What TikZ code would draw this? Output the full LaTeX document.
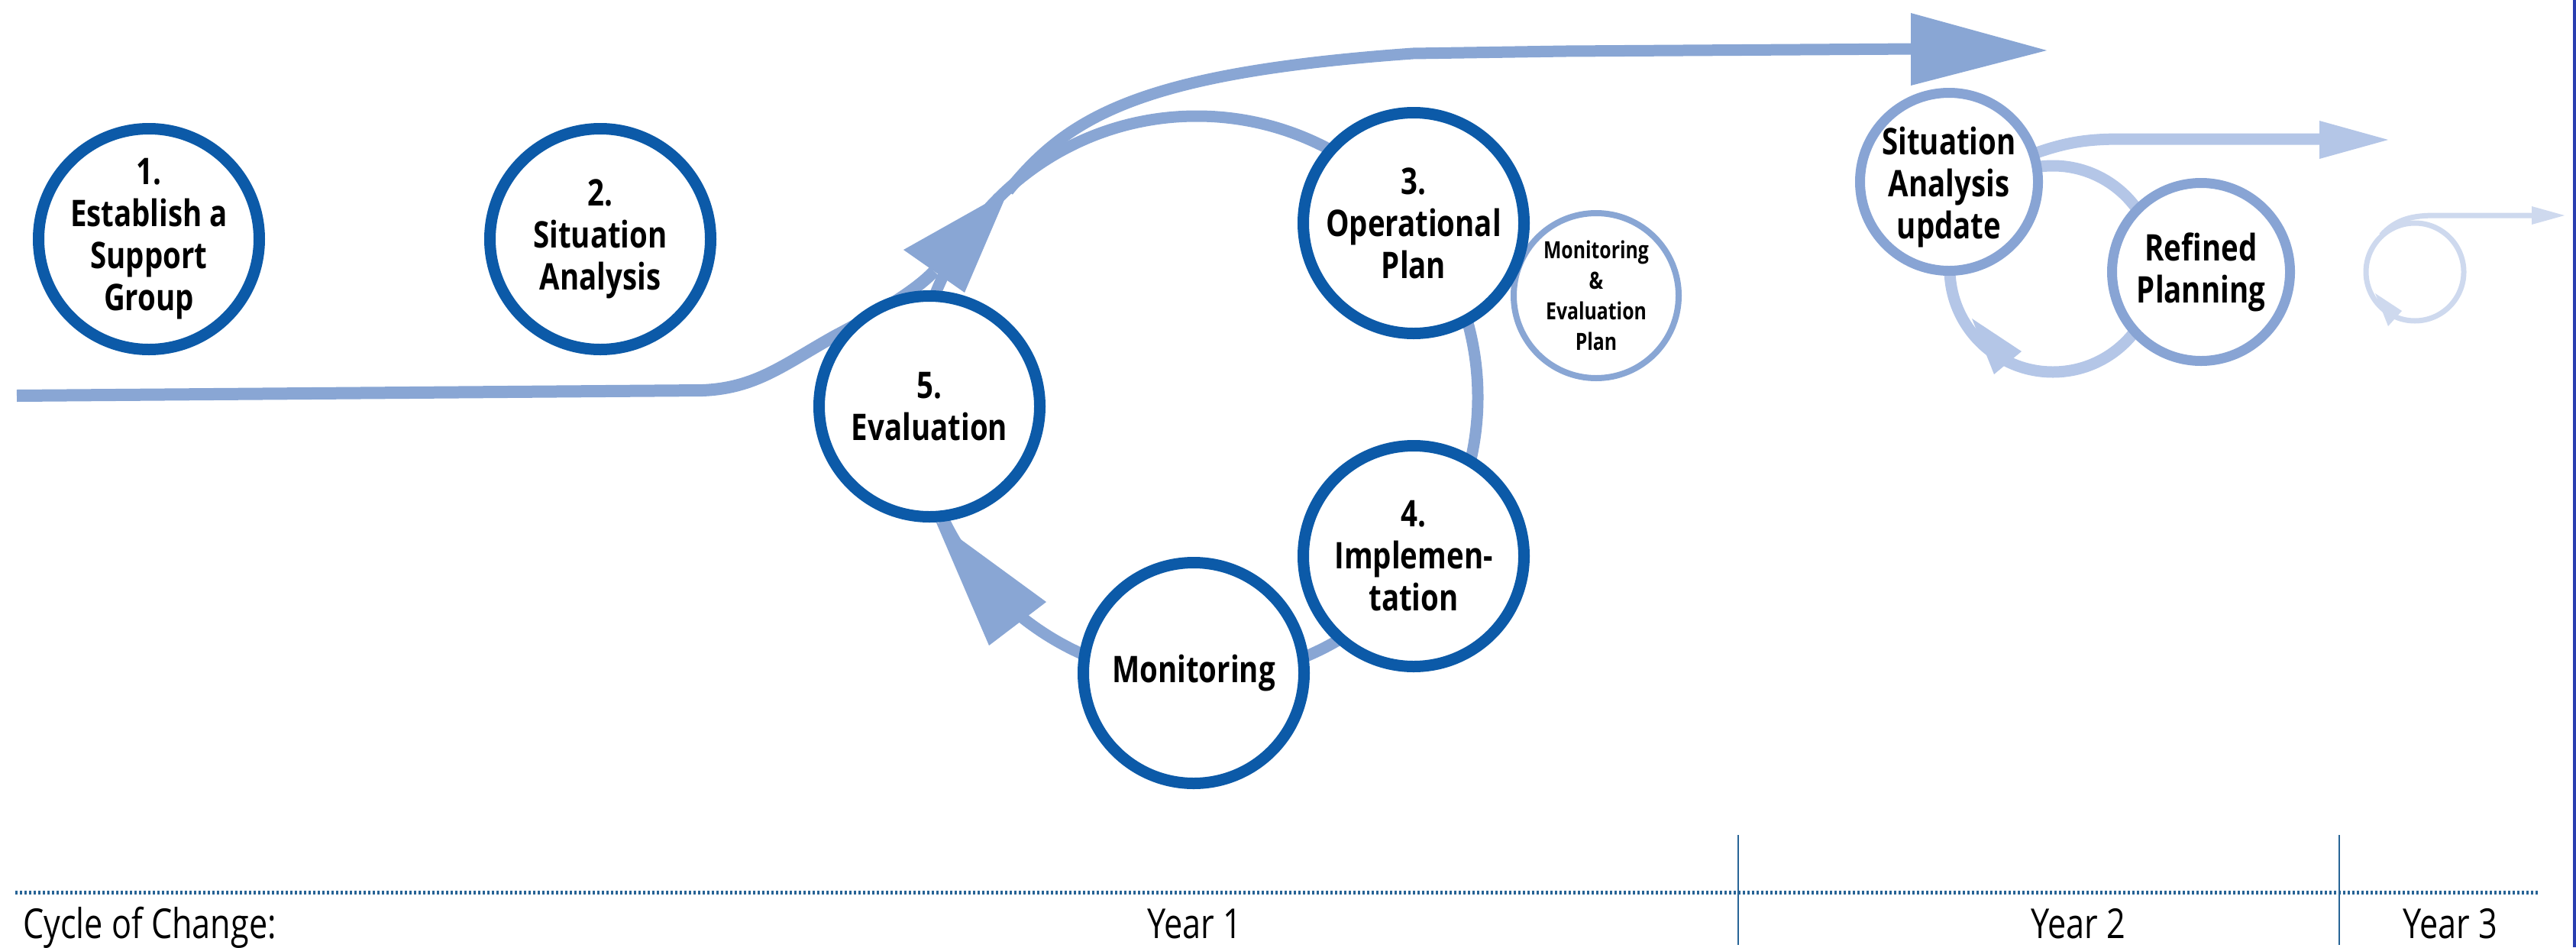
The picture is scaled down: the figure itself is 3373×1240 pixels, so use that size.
\documentclass[tikz,border=0pt]{standalone}
\usepackage{fontspec}
\setmainfont{Open Sans}[FakeStretch=0.8]
\definecolor{cdark}{RGB}{12,90,168}
\definecolor{carrow}{RGB}{137,166,212}
\definecolor{cytwo}{RGB}{180,198,231}
\definecolor{cytwoc}{RGB}{136,164,212}
\definecolor{cythree}{RGB}{206,217,238}
\definecolor{cdot}{RGB}{40,100,150}
\definecolor{cedge}{RGB}{40,62,176}
\tikzset{
  bigc/.style={circle, draw=cdark, line width=15pt, fill=white, minimum size=289pt, inner sep=0pt},
  ytwoc/.style={circle, draw=cytwoc, line width=13pt, fill=white, minimum size=233pt, inner sep=0pt},
  mec/.style={circle, draw=carrow, line width=8pt, fill=white, minimum size=216pt, inner sep=0pt},
  ctext/.style={align=center, font=\fontsize{48}{55}\selectfont\bfseries, inner sep=0pt},
  stext/.style={align=center, font=\fontsize{31}{40}\selectfont\bfseries, inner sep=0pt},
  btext/.style={font=\fontsize{54}{60}\selectfont, inner sep=0pt},
  flow/.style={draw=carrow, line width=16pt},
  flowtwo/.style={draw=cytwo, line width=15pt},
  flowthree/.style={draw=cythree, line width=7pt},
}
\begin{document}
\begin{tikzpicture}[x=1pt,y=-1pt]
\useasboundingbox (0,0) rectangle (3373,1240);
% ---------- coordinates
\coordinate (ringc) at (1567,520);
\coordinate (start) at (22,518);
\coordinate (tipA) at (1320,250);
\coordinate (endA) at (2510,64);
% ---------- Year 1 flows
\draw[flow] (start) -- (920,511) .. controls (990,508) and (1025,478) .. (1093,440)
   .. controls (1150,410) and (1200,380) .. (1223,355);
\draw[flow, line width=15pt] (ringc) circle[radius=368pt];
\draw[flow, line width=15pt] (tipA) .. controls (1400,150) and (1500,95) .. (1850,70) -- (2050,67) -- (endA);
% arrowheads
\fill[carrow] (tipA) -- (1183,327) -- (1263,383) -- cycle;
\fill[carrow] (1225,682) -- (1295,845) -- (1370,788) -- cycle;
\fill[carrow] (2680,66) -- (2502,17) -- (2502,112) -- cycle;
% ---------- Year 2 flows
\coordinate (loopc) at (2688,352);
\draw[flowtwo] (loopc) circle[radius=135pt];
\draw[flowtwo] (2640,210) .. controls (2700,186) and (2730,182) .. (2780,182) -- (3045,182);
\fill[cytwo] (3127,183) -- (3037,158) -- (3037,208) -- cycle;
\fill[cytwo] (2582,417) -- (2647,460) -- (2611,490) -- cycle;
% ---------- Year 3 flows
\coordinate (loopthree) at (3162,356);
\draw[flowthree] (loopthree) circle[radius=64pt];
\draw[flowthree] (3118,308) .. controls (3138,286) and (3160,282) .. (3190,282) -- (3320,282);
\fill[cythree] (3358,282) -- (3315,270) -- (3315,294) -- cycle;
\fill[cythree] (3110,384) -- (3145,407) -- (3127,427) -- cycle;
% ---------- circles Year 1
\node[bigc] (c1) at (195,313) {};
\node[ctext] (t1) at (c1) {1.\\Establish a\\Support\\Group};
\node[bigc] (c2) at (786,313) {};
\node[ctext] (t2) at (c2) {2.\\Situation\\Analysis};
\node[mec] (me) at (2090,387) {};
\node[stext] (tme) at (me) {Monitoring\\\&\\Evaluation\\Plan};
\node[bigc] (c3) at (1851,292) {};
\node[ctext] (t3) at (c3) {3.\\Operational\\Plan};
\node[bigc] (c4) at (1851,728) {};
\node[ctext] (t4) at (c4) {4.\\Implemen-\\tation};
\node[bigc] (cm) at (1563,881) {};
\node[ctext] (tm) at (cm) {Monitoring};
\node[bigc] (c5) at (1217,532) {};
\node[ctext] (t5) at (c5) {5.\\Evaluation};
% ---------- circles Year 2
\node[ytwoc] (sa) at (2552,238) {};
\node[ctext] (tsa) at ([yshift=-7pt]sa.center) {Situation\\Analysis\\update};
\node[ytwoc] (rp) at (2882,356) {};
\node[ctext] (trp) at (rp) {Refined\\Planning};
% ---------- timeline
\coordinate (tl0) at (20,1168);
\coordinate (tl1) at (3323,1168);
\draw[cdot, line width=5pt, dash pattern=on 3pt off 3pt] (tl0) -- (tl1);
\coordinate (s1a) at (2276,1093); \coordinate (s1b) at (2276,1237);
\coordinate (s2a) at (3063,1093); \coordinate (s2b) at (3063,1237);
\draw[cdot, line width=2pt] (s1a) -- (s1b);
\draw[cdot, line width=2pt] (s2a) -- (s2b);
\node[btext, anchor=base west] (lc) at (30,1228) {Cycle of Change:};
\node[btext, anchor=base] (ly1) at (1564,1228) {Year 1};
\node[btext, anchor=base] (ly2) at (2721,1228) {Year 2};
\node[btext, anchor=base] (ly3) at (3208,1228) {Year 3};
% right edge line
\coordinate (ea) at (3371,0); \coordinate (eb) at (3371,1240);
\draw[cedge, line width=4pt] (ea) -- (eb);
\end{tikzpicture}
\end{document}
